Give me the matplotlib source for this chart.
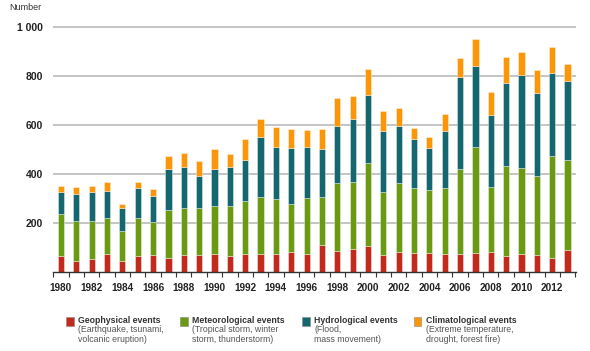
import matplotlib
matplotlib.use("Agg")
import matplotlib.pyplot as plt
from matplotlib.patches import Rectangle
import numpy as np

plt.rcParams['font.family'] = ['Liberation Sans', 'DejaVu Sans']

years = list(range(1980, 2014))

geophysical = [64, 45, 53, 74, 45, 64, 67, 57, 67, 67, 74, 63, 71, 74, 74, 81, 71,
               108, 83, 93, 104, 70, 79, 76, 78, 74, 74, 78, 81, 63, 74, 68, 55, 87]
meteorological = [173, 162, 154, 147, 121, 157, 136, 194, 195, 195, 195, 206, 218, 233,
                  222, 195, 229, 199, 282, 274, 340, 256, 286, 265, 257, 270, 345, 431,
                  267, 369, 351, 323, 419, 369]
hydrological = [88, 113, 120, 111, 93, 120, 107, 169, 165, 131, 151, 158, 170, 245,
                215, 230, 211, 197, 233, 257, 280, 250, 232, 202, 170, 233, 376, 334,
                292, 340, 382, 339, 340, 323]
climatological = [27, 27, 24, 36, 18, 27, 27, 52, 60, 59, 81, 54, 83, 73, 83, 77, 69,
                  79, 113, 97, 105, 81, 72, 45, 46, 68, 79, 110, 96, 108, 91, 95, 105, 73]

series = [geophysical, meteorological, hydrological, climatological]
colors = ['#c22a1c', '#6a9a12', '#14666f', '#fb9609']
titles = ['Geophysical events', 'Meteorological events', 'Hydrological events',
          'Climatological events']
subtitles = [['(Earthquake, tsunami,', 'volcanic eruption)'],
             ['(Tropical storm, winter', 'storm, thunderstorm)'],
             ['(Flood,', 'mass movement)'],
             ['(Extreme temperature,', 'drought, forest fire)']]

W, H = 590, 351
fig = plt.figure(figsize=(W / 100, H / 100), dpi=100)
ax = fig.add_axes([53 / W, (H - 271.7) / H, (576 - 53) / W, 246.8 / H])

x = np.array(years)
bottom = np.zeros(len(years))
for vals, c in zip(series, colors):
    ax.bar(x, vals, width=0.40, bottom=bottom, color=c,
           edgecolor=(1, 1, 1, 0.45), linewidth=0.6, zorder=3)
    bottom += np.array(vals)

ax.set_xlim(1979.48, 2013.55)
ax.set_ylim(0, 1010)

ax.set_yticks([200, 400, 600, 800, 1000])
ax.set_yticklabels(['200', '400', '600', '800', '1 000'])
ax.yaxis.grid(True, color='#b4b4b4', linewidth=1.1, zorder=0)
ax.tick_params(axis='y', length=0, pad=7, labelsize=7.5, labelcolor='#222222')
for lab in ax.get_yticklabels():
    lab.set_fontweight('bold')

ax.set_xticks(years[::2])
ax.set_xticklabels([str(y) for y in years[::2]])
ax.set_xticks(np.arange(1979.5, 2014, 1), minor=True)
ax.tick_params(axis='x', which='major', length=0, pad=8, labelsize=7.2,
               labelcolor='#222222')
ax.tick_params(axis='x', which='minor', length=3.5, width=0.8, color='#333333')
for lab in ax.get_xticklabels():
    lab.set_fontweight('bold')

for s in ['left', 'right', 'top']:
    ax.spines[s].set_visible(False)
ax.spines['bottom'].set_color('#333333')
ax.spines['bottom'].set_linewidth(1.0)
ax.spines['bottom'].set_zorder(4)

fig.text(9 / W, 1 - 8 / H, 'Number', fontsize=6.5, color='#333333', va='center')

# legend
sq_x = [66, 180, 302, 413.5]
for sx, c, t, sub in zip(sq_x, colors, titles, subtitles):
    fig.add_artist(Rectangle((sx / W, 1 - 326 / H), 7.5 / W, 9 / H,
                             transform=fig.transFigure, facecolor=c,
                             edgecolor='#888888', linewidth=0.4))
    fig.text((sx + 12.5) / W, 1 - 320.5 / H, t, fontsize=6.3, fontweight='bold',
             color='#333333', va='center')
    fig.text((sx + 12.5) / W, 1 - 330 / H, sub[0], fontsize=6.3,
             color='#555555', va='center')
    fig.text((sx + 12.5) / W, 1 - 339.5 / H, sub[1], fontsize=6.3,
             color='#555555', va='center')

fig.savefig('out.png', dpi=100)
